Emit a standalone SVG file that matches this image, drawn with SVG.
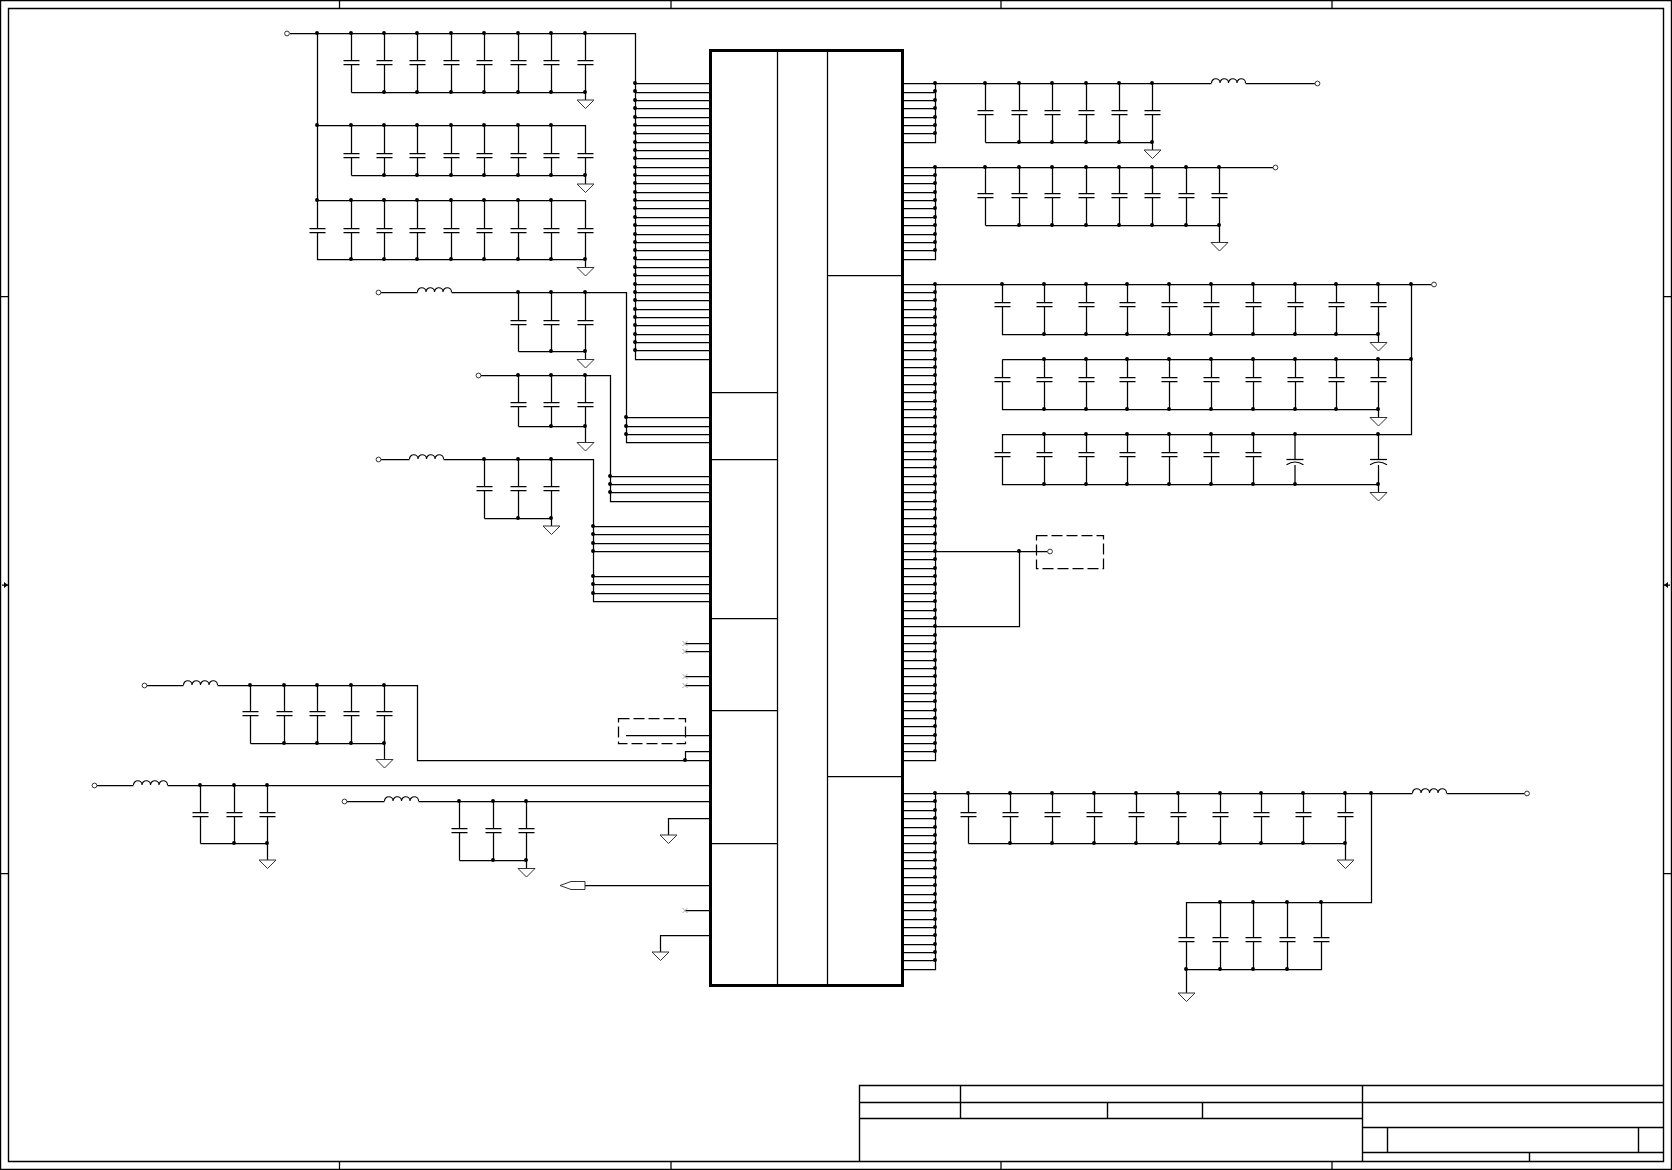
<svg xmlns="http://www.w3.org/2000/svg" width="1672" height="1170" viewBox="0 0 1672 1170">
<style>
.w{fill:none;stroke:#000;stroke-width:1.25}
.t{fill:none;stroke:#000;stroke-width:1.4}
.ic{fill:none;stroke:#000;stroke-width:3}
.d{fill:none;stroke:#000;stroke-width:3.9;stroke-linecap:round}
.dash{fill:none;stroke:#000;stroke-width:1.25;stroke-dasharray:11 4}
.g{fill:#fff;stroke:#333;stroke-width:1}
.p{fill:#fff;stroke:#333;stroke-width:1}
.l{fill:none;stroke:#000;stroke-width:1.1}
.x{fill:none;stroke:#aaa;stroke-width:1}
</style>
<defs>
<g id="cap"><rect x="-8" y="0" width="16" height="4" fill="#fff"/><path class="w" d="M-8 .5H8M-8 4.5H8"/></g>
<g id="pol"><rect x="-8.5" y="0" width="17" height="6" fill="#fff"/><path class="w" d="M-8.5 .5H8.5"/><path class="l" d="M-8.5 5.7Q0 .3 8.5 5.7"/></g>
<path id="gnd" class="g" d="M-8.5 0H8.5L0 8.5Z"/>
<path id="ind" class="l" d="M0 0a4.25 4.25 0 0 1 8.5 0a4.25 4.25 0 0 1 8.5 0a4.25 4.25 0 0 1 8.5 0a4.25 4.25 0 0 1 8.5 0"/>
<circle id="pin" class="p" r="2.4"/>
<path id="nc" class="x" d="M-2.5 -2.5L2.5 2.5M-2.5 2.5L2.5 -2.5"/>
</defs>
<g id="frame">
<path class="t" d="M.5 .5H1671.5V1169.5H.5ZM8.5 8.5H1663.5V1161.5H8.5Z"/>
<path class="w" d="M339.5 0V9M671 0V9M1001 0V9M1332 0V9M339.5 1161V1170M671 1161V1170M1001 1161V1170M1332 1161V1170M0 296.5H9M0 873.5H9M1663 296.5H1672M1663 873.5H1672M2 585H8M1664 585H1670"/>
<path d="M8 585L4 582V588ZM1664 585L1668 582V588Z" fill="#000"/>
</g>
<g id="titleblock">
<path class="t" d="M859.5 1161.5V1085.5H1663.5M859.5 1102.5H1663.5M859.5 1118.5H1362.5M960.5 1085.5V1118.5M1107.5 1102.5V1118.5M1202.5 1102.5V1118.5M1362.5 1085.5V1161.5M1362.5 1127.5H1663.5M1362.5 1152.5H1663.5M1387.5 1127.5V1152.5M1638.5 1127.5V1152.5M1529.5 1152.5V1161.5"/>
</g>
<g id="U1">
<rect class="ic" x="710.5" y="50.5" width="192" height="935"/>
<path class="w" d="M777.5 50V985M827.5 50V985M710 392.5H777.5M710 459.5H777.5M710 618.5H777.5M710 710.5H777.5M710 843.5H777.5M827.5 275.5H902M827.5 776.5H902"/>
</g>
<g id="connectors">
<path class="w" d="M290 33.5H635.5V359.5H710M351.5 92.5H585.5V100M351.5 33.5V92.5M384.5 33.5V92.5M417.5 33.5V92.5M451.5 33.5V92.5M484.5 33.5V92.5M518.5 33.5V92.5M551.5 33.5V92.5M585.5 33.5V92.5"/>
<path class="w" d="M317.5 125.5H585.5V184M351.5 175.5H585.5M351.5 125.5V175.5M384.5 125.5V175.5M417.5 125.5V175.5M451.5 125.5V175.5M484.5 125.5V175.5M518.5 125.5V175.5M551.5 125.5V175.5"/>
<path class="w" d="M317.5 33.5V259.5H585.5M317.5 200.5H585.5V267.5M351.5 200.5V259.5M384.5 200.5V259.5M417.5 200.5V259.5M451.5 200.5V259.5M484.5 200.5V259.5M518.5 200.5V259.5M551.5 200.5V259.5"/>
<path class="w" d="M635.5 83.5H710M635.5 92.5H710M635.5 100.5H710M635.5 108.5H710M635.5 117.5H710M635.5 125.5H710M635.5 133.5H710M635.5 142.5H710M635.5 150.5H710M635.5 158.5H710M635.5 167.5H710M635.5 175.5H710M635.5 183.5H710M635.5 192.5H710M635.5 200.5H710M635.5 208.5H710M635.5 217.5H710M635.5 225.5H710M635.5 234.5H710M635.5 242.5H710M635.5 250.5H710M635.5 259.5H710M635.5 267.5H710M635.5 275.5H710M635.5 284.5H710M635.5 292.5H710M635.5 300.5H710M635.5 309.5H710M635.5 317.5H710M635.5 325.5H710M635.5 334.5H710M635.5 342.5H710M635.5 350.5H710"/>
<path class="w" d="M381 292.5H417.5M451.5 292.5H626.5V442.5H710M626.5 417.5H710M626.5 426.5H710M626.5 434.5H710M518.5 351.5H585.5V359.5M518.5 292.5V351.5M551.5 292.5V351.5M585.5 292.5V351.5"/>
<path class="w" d="M481 375.5H610.5V501.5H710M610.5 476.5H710M610.5 484.5H710M610.5 492.5H710M518.5 426.5H585.5V442.5M518.5 375.5V426.5M551.5 375.5V426.5M585.5 375.5V426.5"/>
<path class="w" d="M381 459.5H409.5M443.5 459.5H593.5V601.5H710M593.5 526.5H710M593.5 534.5H710M593.5 543.5H710M593.5 551.5H710M593.5 576.5H710M593.5 584.5H710M593.5 593.5H710M484.5 518.5H551.5V526M484.5 459.5V518.5M518.5 459.5V518.5M551.5 459.5V518.5"/>
<path class="w" d="M147 685.5H183.5M217.5 685.5H417.5V760.5H710M250.5 743.5H384.5V759.5M250.5 685.5V743.5M284.5 685.5V743.5M317.5 685.5V743.5M351.5 685.5V743.5M384.5 685.5V743.5"/>
<path class="w" d="M97 785.5H133.5M167.5 785.5H710M200.5 843.5H267.5V860M200.5 785.5V843.5M234.5 785.5V843.5M267.5 785.5V843.5"/>
<path class="w" d="M347 801.5H384.5M418.5 801.5H710M459.5 860.5H526.5V868.5M459.5 801.5V860.5M493.5 801.5V860.5M526.5 801.5V860.5"/>
<path class="w" d="M685 643.5H710M685 651.5H710M685 676.5H710M685 685.5H710M685 910.5H710M626 735.5H710M710 751.5H685.5V760.5M710 818.5H668.5V835M585 885.5H710M710 935.5H660.5V952"/>
<path class="w" d="M902 83.5H1211.5M1245.5 83.5H1315M935.5 83.5V142.5H902M903 92.5H935.5M903 100.5H935.5M903 108.5H935.5M903 117.5H935.5M903 125.5H935.5M903 133.5H935.5M985.5 142.5H1152.5V150M985.5 83.5V142.5M1019.5 83.5V142.5M1052.5 83.5V142.5M1086.5 83.5V142.5M1119.5 83.5V142.5M1152.5 83.5V142.5"/>
<path class="w" d="M902 167.5H1273M935.5 167.5V259.5H902M903 175.5H935.5M903 183.5H935.5M903 192.5H935.5M903 200.5H935.5M903 208.5H935.5M903 217.5H935.5M903 225.5H935.5M903 234.5H935.5M903 242.5H935.5M903 250.5H935.5M985.5 225.5H1219.5V242.5M985.5 167.5V225.5M1019.5 167.5V225.5M1052.5 167.5V225.5M1086.5 167.5V225.5M1119.5 167.5V225.5M1152.5 167.5V225.5M1186.5 167.5V225.5M1219.5 167.5V225.5"/>
<path class="w" d="M902 284.5H1431.5M935.5 284.5V760.5H902M903 292.5H935.5M903 300.5H935.5M903 309.5H935.5M903 317.5H935.5M903 325.5H935.5M903 334.5H935.5M903 342.5H935.5M903 350.5H935.5M903 359.5H935.5M903 367.5H935.5M903 375.5H935.5M903 384.5H935.5M903 392.5H935.5M903 401.5H935.5M903 409.5H935.5M903 417.5H935.5M903 426.5H935.5M903 434.5H935.5M903 442.5H935.5M903 451.5H935.5M903 459.5H935.5M903 467.5H935.5M903 476.5H935.5M903 484.5H935.5M903 492.5H935.5M903 501.5H935.5M903 509.5H935.5M903 518.5H935.5M903 526.5H935.5M903 534.5H935.5M903 543.5H935.5M903 551.5H1047.5M903 559.5H935.5M903 568.5H935.5M903 576.5H935.5M903 584.5H935.5M903 593.5H935.5M903 601.5H935.5M903 610.5H935.5M903 618.5H935.5M903 626.5H1019.5V551.5M903 635.5H935.5M903 643.5H935.5M903 651.5H935.5M903 660.5H935.5M903 668.5H935.5M903 676.5H935.5M903 685.5H935.5M903 693.5H935.5M903 701.5H935.5M903 710.5H935.5M903 718.5H935.5M903 726.5H935.5M903 735.5H935.5M903 743.5H935.5M903 751.5H935.5"/>
<path class="w" d="M1411.5 284.5V434.5H1002.5V484.5H1378.5V492.5M1002.5 359.5H1411.5M1002.5 359.5V409.5H1378.5V417.5M1002.5 284.5V334.5H1378.5V342.5"/>
<path class="w" d="M1044.5 284.5V334.5M1086.5 284.5V334.5M1127.5 284.5V334.5M1169.5 284.5V334.5M1211.5 284.5V334.5M1253.5 284.5V334.5M1295.5 284.5V334.5M1336.5 284.5V334.5M1378.5 284.5V334.5M1044.5 359.5V409.5M1086.5 359.5V409.5M1127.5 359.5V409.5M1169.5 359.5V409.5M1211.5 359.5V409.5M1253.5 359.5V409.5M1295.5 359.5V409.5M1336.5 359.5V409.5M1378.5 359.5V409.5M1044.5 434.5V484.5M1086.5 434.5V484.5M1127.5 434.5V484.5M1169.5 434.5V484.5M1211.5 434.5V484.5M1253.5 434.5V484.5M1295 434.5V484.5M1378.5 434.5V484.5"/>
<path class="w" d="M902 793.5H1412.5M1446.5 793.5H1524.5M935.5 793.5V969.5H902M903 801.5H935.5M903 810.5H935.5M903 818.5H935.5M903 827.5H935.5M903 835.5H935.5M903 843.5H935.5M903 852.5H935.5M903 860.5H935.5M903 868.5H935.5M903 877.5H935.5M903 885.5H935.5M903 894.5H935.5M903 902.5H935.5M903 910.5H935.5M903 919.5H935.5M903 927.5H935.5M903 935.5H935.5M903 944.5H935.5M903 952.5H935.5M903 960.5H935.5"/>
<path class="w" d="M968.5 843.5H1345.5V860M968.5 793.5V843.5M1010.5 793.5V843.5M1052.5 793.5V843.5M1094.5 793.5V843.5M1136.5 793.5V843.5M1178.5 793.5V843.5M1220.5 793.5V843.5M1261.5 793.5V843.5M1303.5 793.5V843.5M1345.5 793.5V843.5"/>
<path class="w" d="M1371.5 793.5V902.5H1186.5V993M1186.5 969.5H1321.5V902.5M1220.5 902.5V969.5M1253.5 902.5V969.5M1287.5 902.5V969.5"/>
</g>
<g id="L1"><use href="#ind" x="417.5" y="292"/></g>
<g id="L2"><use href="#ind" x="409.5" y="459"/></g>
<g id="L3"><use href="#ind" x="183.5" y="685"/></g>
<g id="L4"><use href="#ind" x="133.5" y="785"/></g>
<g id="L5"><use href="#ind" x="384.5" y="801"/></g>
<g id="L6"><use href="#ind" x="1211.5" y="83"/></g>
<g id="L7"><use href="#ind" x="1412.5" y="793"/></g>
<g id="P1"><use href="#pin" x="287" y="33.5"/></g>
<g id="P2"><use href="#pin" x="378.5" y="292.5"/></g>
<g id="P3"><use href="#pin" x="478.5" y="375.5"/></g>
<g id="P4"><use href="#pin" x="378.5" y="459.5"/></g>
<g id="P5"><use href="#pin" x="144.5" y="685.5"/></g>
<g id="P6"><use href="#pin" x="94.5" y="785.5"/></g>
<g id="P7"><use href="#pin" x="344.5" y="801.5"/></g>
<g id="P8"><use href="#pin" x="1317.5" y="83.5"/></g>
<g id="P9"><use href="#pin" x="1275.5" y="167.5"/></g>
<g id="P10"><use href="#pin" x="1434" y="284.5"/></g>
<g id="P11"><use href="#pin" x="1050" y="551.5"/></g>
<g id="P12"><use href="#pin" x="1527" y="793.5"/></g>
<g id="G1"><use href="#gnd" x="585.5" y="100"/></g>
<g id="G2"><use href="#gnd" x="585.5" y="184"/></g>
<g id="G3"><use href="#gnd" x="585.5" y="267.5"/></g>
<g id="G4"><use href="#gnd" x="585.5" y="359.5"/></g>
<g id="G5"><use href="#gnd" x="585.5" y="442.5"/></g>
<g id="G6"><use href="#gnd" x="551.5" y="526"/></g>
<g id="G7"><use href="#gnd" x="384.5" y="759.5"/></g>
<g id="G8"><use href="#gnd" x="267.5" y="860"/></g>
<g id="G9"><use href="#gnd" x="526.5" y="868.5"/></g>
<g id="G10"><use href="#gnd" x="668.5" y="835"/></g>
<g id="G11"><use href="#gnd" x="660.5" y="952"/></g>
<g id="G12"><use href="#gnd" x="1152.5" y="150"/></g>
<g id="G13"><use href="#gnd" x="1219.5" y="242.5"/></g>
<g id="G14"><use href="#gnd" x="1378.5" y="342.5"/></g>
<g id="G15"><use href="#gnd" x="1378.5" y="417.5"/></g>
<g id="G16"><use href="#gnd" x="1378.5" y="492.5"/></g>
<g id="G17"><use href="#gnd" x="1345.5" y="860"/></g>
<g id="G18"><use href="#gnd" x="1186.5" y="993"/></g>
<g id="NC1"><use href="#nc" x="685" y="643.5"/></g>
<g id="NC2"><use href="#nc" x="685" y="651.5"/></g>
<g id="NC3"><use href="#nc" x="685" y="676.5"/></g>
<g id="NC4"><use href="#nc" x="685" y="685.5"/></g>
<g id="NC5"><use href="#nc" x="685" y="910.5"/></g>
<g id="offpage"><path class="p" d="M585 881.5H571L560 885.5L571 889.5H585Z"/></g>
<g id="box1"><rect class="dash" x="618.5" y="718.5" width="67" height="25"/></g>
<g id="box2"><rect class="dash" x="1036.5" y="535.5" width="67" height="33"/></g>
<g id="C1"><use href="#cap" x="351.5" y="60"/></g>
<g id="C2"><use href="#cap" x="384.5" y="60"/></g>
<g id="C3"><use href="#cap" x="417.5" y="60"/></g>
<g id="C4"><use href="#cap" x="451.5" y="60"/></g>
<g id="C5"><use href="#cap" x="484.5" y="60"/></g>
<g id="C6"><use href="#cap" x="518.5" y="60"/></g>
<g id="C7"><use href="#cap" x="551.5" y="60"/></g>
<g id="C8"><use href="#cap" x="585.5" y="60"/></g>
<g id="C9"><use href="#cap" x="351.5" y="153"/></g>
<g id="C10"><use href="#cap" x="384.5" y="153"/></g>
<g id="C11"><use href="#cap" x="417.5" y="153"/></g>
<g id="C12"><use href="#cap" x="451.5" y="153"/></g>
<g id="C13"><use href="#cap" x="484.5" y="153"/></g>
<g id="C14"><use href="#cap" x="518.5" y="153"/></g>
<g id="C15"><use href="#cap" x="551.5" y="153"/></g>
<g id="C16"><use href="#cap" x="585.5" y="153"/></g>
<g id="C17"><use href="#cap" x="317.5" y="228"/></g>
<g id="C18"><use href="#cap" x="351.5" y="228"/></g>
<g id="C19"><use href="#cap" x="384.5" y="228"/></g>
<g id="C20"><use href="#cap" x="417.5" y="228"/></g>
<g id="C21"><use href="#cap" x="451.5" y="228"/></g>
<g id="C22"><use href="#cap" x="484.5" y="228"/></g>
<g id="C23"><use href="#cap" x="518.5" y="228"/></g>
<g id="C24"><use href="#cap" x="551.5" y="228"/></g>
<g id="C25"><use href="#cap" x="585.5" y="228"/></g>
<g id="C26"><use href="#cap" x="518.5" y="320"/></g>
<g id="C27"><use href="#cap" x="551.5" y="320"/></g>
<g id="C28"><use href="#cap" x="585.5" y="320"/></g>
<g id="C29"><use href="#cap" x="518.5" y="402"/></g>
<g id="C30"><use href="#cap" x="551.5" y="402"/></g>
<g id="C31"><use href="#cap" x="585.5" y="402"/></g>
<g id="C32"><use href="#cap" x="484.5" y="486"/></g>
<g id="C33"><use href="#cap" x="518.5" y="486"/></g>
<g id="C34"><use href="#cap" x="551.5" y="486"/></g>
<g id="C35"><use href="#cap" x="250.5" y="711"/></g>
<g id="C36"><use href="#cap" x="284.5" y="711"/></g>
<g id="C37"><use href="#cap" x="317.5" y="711"/></g>
<g id="C38"><use href="#cap" x="351.5" y="711"/></g>
<g id="C39"><use href="#cap" x="384.5" y="711"/></g>
<g id="C40"><use href="#cap" x="200.5" y="812"/></g>
<g id="C41"><use href="#cap" x="234.5" y="812"/></g>
<g id="C42"><use href="#cap" x="267.5" y="812"/></g>
<g id="C43"><use href="#cap" x="459.5" y="828"/></g>
<g id="C44"><use href="#cap" x="493.5" y="828"/></g>
<g id="C45"><use href="#cap" x="526.5" y="828"/></g>
<g id="C46"><use href="#cap" x="985.5" y="110"/></g>
<g id="C47"><use href="#cap" x="1019.5" y="110"/></g>
<g id="C48"><use href="#cap" x="1052.5" y="110"/></g>
<g id="C49"><use href="#cap" x="1086.5" y="110"/></g>
<g id="C50"><use href="#cap" x="1119.5" y="110"/></g>
<g id="C51"><use href="#cap" x="1152.5" y="110"/></g>
<g id="C52"><use href="#cap" x="985.5" y="193"/></g>
<g id="C53"><use href="#cap" x="1019.5" y="193"/></g>
<g id="C54"><use href="#cap" x="1052.5" y="193"/></g>
<g id="C55"><use href="#cap" x="1086.5" y="193"/></g>
<g id="C56"><use href="#cap" x="1119.5" y="193"/></g>
<g id="C57"><use href="#cap" x="1152.5" y="193"/></g>
<g id="C58"><use href="#cap" x="1186.5" y="193"/></g>
<g id="C59"><use href="#cap" x="1219.5" y="193"/></g>
<g id="C60"><use href="#cap" x="1002.5" y="302"/></g>
<g id="C61"><use href="#cap" x="1044.5" y="302"/></g>
<g id="C62"><use href="#cap" x="1086.5" y="302"/></g>
<g id="C63"><use href="#cap" x="1127.5" y="302"/></g>
<g id="C64"><use href="#cap" x="1169.5" y="302"/></g>
<g id="C65"><use href="#cap" x="1211.5" y="302"/></g>
<g id="C66"><use href="#cap" x="1253.5" y="302"/></g>
<g id="C67"><use href="#cap" x="1295.5" y="302"/></g>
<g id="C68"><use href="#cap" x="1336.5" y="302"/></g>
<g id="C69"><use href="#cap" x="1378.5" y="302"/></g>
<g id="C70"><use href="#cap" x="1002.5" y="377"/></g>
<g id="C71"><use href="#cap" x="1044.5" y="377"/></g>
<g id="C72"><use href="#cap" x="1086.5" y="377"/></g>
<g id="C73"><use href="#cap" x="1127.5" y="377"/></g>
<g id="C74"><use href="#cap" x="1169.5" y="377"/></g>
<g id="C75"><use href="#cap" x="1211.5" y="377"/></g>
<g id="C76"><use href="#cap" x="1253.5" y="377"/></g>
<g id="C77"><use href="#cap" x="1295.5" y="377"/></g>
<g id="C78"><use href="#cap" x="1336.5" y="377"/></g>
<g id="C79"><use href="#cap" x="1378.5" y="377"/></g>
<g id="C80"><use href="#cap" x="1002.5" y="452"/></g>
<g id="C81"><use href="#cap" x="1044.5" y="452"/></g>
<g id="C82"><use href="#cap" x="1086.5" y="452"/></g>
<g id="C83"><use href="#cap" x="1127.5" y="452"/></g>
<g id="C84"><use href="#cap" x="1169.5" y="452"/></g>
<g id="C85"><use href="#cap" x="1211.5" y="452"/></g>
<g id="C86"><use href="#cap" x="1253.5" y="452"/></g>
<g id="C87"><use href="#pol" x="1295" y="459"/></g>
<g id="C88"><use href="#pol" x="1378.5" y="459"/></g>
<g id="C89"><use href="#cap" x="968.5" y="812"/></g>
<g id="C90"><use href="#cap" x="1010.5" y="812"/></g>
<g id="C91"><use href="#cap" x="1052.5" y="812"/></g>
<g id="C92"><use href="#cap" x="1094.5" y="812"/></g>
<g id="C93"><use href="#cap" x="1136.5" y="812"/></g>
<g id="C94"><use href="#cap" x="1178.5" y="812"/></g>
<g id="C95"><use href="#cap" x="1220.5" y="812"/></g>
<g id="C96"><use href="#cap" x="1261.5" y="812"/></g>
<g id="C97"><use href="#cap" x="1303.5" y="812"/></g>
<g id="C98"><use href="#cap" x="1345.5" y="812"/></g>
<g id="C99"><use href="#cap" x="1186.5" y="937"/></g>
<g id="C100"><use href="#cap" x="1220.5" y="937"/></g>
<g id="C101"><use href="#cap" x="1253.5" y="937"/></g>
<g id="C102"><use href="#cap" x="1287.5" y="937"/></g>
<g id="C103"><use href="#cap" x="1321.5" y="937"/></g>
<g id="junctions">
<path class="d" d="M317 33h0M351 33h0M384 33h0M417 33h0M451 33h0M484 33h0M518 33h0M551 33h0M585 33h0M384 92h0M417 92h0M451 92h0M484 92h0M518 92h0M551 92h0M585 92h0M317 125h0M351 125h0M384 125h0M417 125h0M451 125h0M484 125h0M518 125h0M551 125h0M384 175h0M417 175h0M451 175h0M484 175h0M518 175h0M551 175h0M585 175h0M317 200h0M351 200h0M384 200h0M417 200h0M451 200h0M484 200h0M518 200h0M551 200h0M351 259h0M384 259h0M417 259h0M451 259h0M484 259h0M518 259h0M551 259h0M585 259h0"/>
<path class="d" d="M635 83h0M635 91h0M635 100h0M635 108h0M635 117h0M635 125h0M635 133h0M635 142h0M635 150h0M635 158h0M635 167h0M635 175h0M635 183h0M635 192h0M635 200h0M635 208h0M635 217h0M635 225h0M635 234h0M635 242h0M635 250h0M635 258h0M635 267h0M635 275h0M635 284h0M635 292h0M635 300h0M635 309h0M635 317h0M635 325h0M635 334h0M635 342h0M635 350h0"/>
<path class="d" d="M518 292h0M551 292h0M585 292h0M551 351h0M585 351h0M626 417h0M626 426h0M626 434h0M518 375h0M551 375h0M585 375h0M551 426h0M585 426h0M610 476h0M610 484h0M610 492h0M484 459h0M518 459h0M551 459h0M518 518h0M551 518h0M593 526h0M593 534h0M593 543h0M593 551h0M593 576h0M593 584h0M593 593h0M250 685h0M284 685h0M317 685h0M351 685h0M384 685h0M284 743h0M317 743h0M351 743h0M384 743h0M200 785h0M234 785h0M267 785h0M234 843h0M267 843h0M459 801h0M493 801h0M526 801h0M493 860h0M526 860h0M685 760h0"/>
<path class="d" d="M935 83h0M935 91h0M935 100h0M935 108h0M935 117h0M935 125h0M935 133h0M985 83h0M1019 83h0M1052 83h0M1086 83h0M1119 83h0M1152 83h0M1019 142h0M1052 142h0M1086 142h0M1119 142h0M1152 142h0M935 167h0M935 175h0M935 183h0M935 192h0M935 200h0M935 208h0M935 217h0M935 225h0M935 234h0M935 242h0M935 250h0M985 167h0M1019 167h0M1052 167h0M1086 167h0M1119 167h0M1152 167h0M1186 167h0M1219 167h0M1019 225h0M1052 225h0M1086 225h0M1119 225h0M1152 225h0M1186 225h0M1219 225h0"/>
<path class="d" d="M935 284h0M935 292h0M935 300h0M935 309h0M935 317h0M935 325h0M935 334h0M935 342h0M935 350h0M935 359h0M935 367h0M935 375h0M935 384h0M935 392h0M935 401h0M935 409h0M935 417h0M935 426h0M935 434h0M935 442h0M935 451h0M935 459h0M935 467h0M935 476h0M935 484h0M935 492h0M935 501h0M935 509h0M935 518h0M935 526h0M935 534h0M935 543h0M935 551h0M935 559h0M935 568h0M935 576h0M935 584h0M935 593h0M935 601h0M935 610h0M935 618h0M935 626h0M935 635h0M935 643h0M935 651h0M935 660h0M935 668h0M935 676h0M935 685h0M935 693h0M935 701h0M935 710h0M935 718h0M935 726h0M935 735h0M935 743h0M935 751h0M1019 551h0"/>
<path class="d" d="M1002 284h0M1044 284h0M1086 284h0M1127 284h0M1169 284h0M1211 284h0M1253 284h0M1295 284h0M1336 284h0M1378 284h0M1411 284h0M1044 334h0M1086 334h0M1127 334h0M1169 334h0M1211 334h0M1253 334h0M1295 334h0M1336 334h0M1378 334h0M1044 359h0M1086 359h0M1127 359h0M1169 359h0M1211 359h0M1253 359h0M1295 359h0M1336 359h0M1378 359h0M1411 359h0M1044 409h0M1086 409h0M1127 409h0M1169 409h0M1211 409h0M1253 409h0M1295 409h0M1336 409h0M1378 409h0M1044 434h0M1086 434h0M1127 434h0M1169 434h0M1211 434h0M1253 434h0M1295 434h0M1378 434h0M1044 484h0M1086 484h0M1127 484h0M1169 484h0M1211 484h0M1253 484h0M1295 484h0M1378 484h0"/>
<path class="d" d="M935 793h0M935 801h0M935 810h0M935 818h0M935 827h0M935 835h0M935 843h0M935 852h0M935 860h0M935 868h0M935 877h0M935 885h0M935 894h0M935 902h0M935 910h0M935 919h0M935 927h0M935 935h0M935 944h0M935 952h0M935 960h0M968 793h0M1010 793h0M1052 793h0M1094 793h0M1136 793h0M1178 793h0M1220 793h0M1261 793h0M1303 793h0M1345 793h0M1371 793h0M1010 843h0M1052 843h0M1094 843h0M1136 843h0M1178 843h0M1220 843h0M1261 843h0M1303 843h0M1345 843h0M1220 902h0M1253 902h0M1287 902h0M1321 902h0M1186 969h0M1220 969h0M1253 969h0M1287 969h0"/>
</g>
</svg>
